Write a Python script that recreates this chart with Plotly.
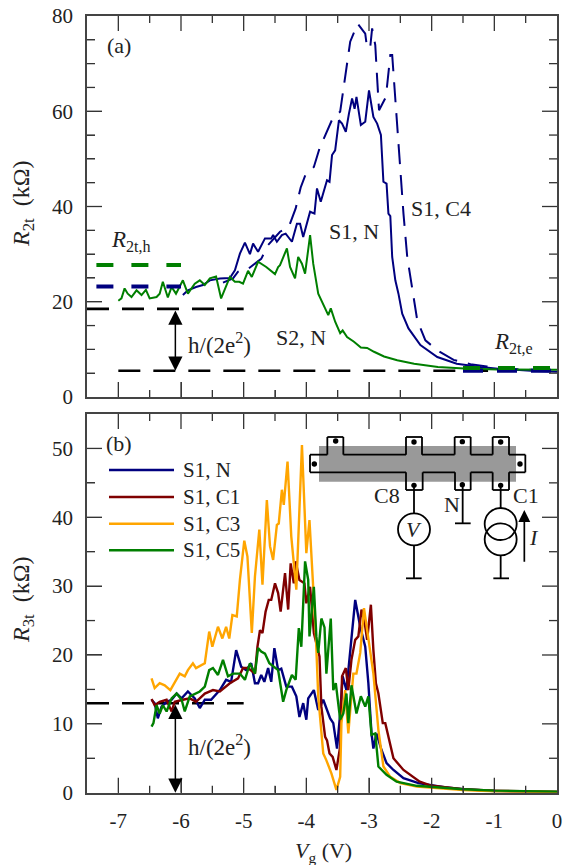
import plotly.graph_objects as go

# ---------- panel (a) data ----------
a_s2n_x = [-7.0,-6.95,-6.9,-6.85,-6.79,-6.71,-6.63,-6.56,-6.5,-6.39,-6.34,-6.29,-6.21,-6.15,-6.08,-5.97,-5.89,-5.78,-5.7,-5.62,-5.54,-5.44,-5.36,-5.28,-5.22,-5.14,-5.07,-5.01,-4.93,-4.87,-4.77,-4.64,-4.5,-4.45,-4.42,-4.31,-4.26,-4.18,-4.13,-4.07,-4.02,-3.94,-3.89,-3.81,-3.73,-3.65,-3.61,-3.54,-3.46,-3.42,-3.35,-3.24,-3.13,-3.03,-2.92,-2.76,-2.55,-2.28,-1.9,-1.48,-0.95,0]
a_s2n_y = [20.2,20.7,22.8,21.7,21,22.4,21.4,22.5,20.7,21,21.7,24.2,20.9,23.1,21.7,24.5,21.7,23.8,24.5,23.5,24.9,25.3,20.7,23.1,25.2,24.2,24.2,23.8,26.5,25.2,28.4,27.3,25.8,27.3,27.7,31.2,27.3,24.9,29.4,28,25.9,34,28,21.7,19.6,17.2,18.6,15.8,13.4,14,12.6,11.6,10.4,10.3,9.5,8.5,7.7,7,6.3,6,5.8,5.7]
a_s1n_x = [-5.97,-5.89,-5.76,-5.65,-5.54,-5.38,-5.22,-5.14,-5.06,-4.98,-4.9,-4.85,-4.77,-4.66,-4.56,-4.53,-4.47,-4.39,-4.33,-4.23,-4.15,-4.1,-4.05,-3.94,-3.87,-3.83,-3.77,-3.67,-3.63,-3.59,-3.54,-3.48,-3.43,-3.37,-3.32,-3.27,-3.23,-3.2,-3.13,-3.06,-3,-2.93,-2.87,-2.81,-2.77,-2.72,-2.69,-2.66,-2.63,-2.58,-2.53,-2.47,-2.37,-2.18,-1.91,-1.6,-1.22,-0.9,-0.42,0]
a_s1n_y = [21.4,22.4,23.1,23.5,24.5,24.9,25,26.6,30.1,32.4,30,32.2,30.5,33.3,33.3,34,32.6,34,34.3,32.6,36.4,36.4,33.6,38.9,38.5,43.8,41,45.5,45.2,50.8,51.8,58.1,57.4,55.7,59.5,62.7,60.5,63,57.1,57.8,64.4,58.8,57.4,55,45.2,44.8,38.5,38,29.4,24.5,21.7,17.5,14.4,10.9,8.4,7,6.3,5.9,5.5,5.3]
a_s1c4_x = [-5.33,-5.17,-5.09,-4.96,-4.72,-4.61,-4.42,-4.28,-4.17,-4.09,-4.01,-3.88,-3.79,-3.7,-3.57,-3.46,-3.38,-3.3,-3.18,-3.06,-3.03,-2.98,-2.95,-2.9,-2.87,-2.84,-2.73,-2.66,-2.63,-2.59,-2.55,-2.51,-2.45,-2.39,-2.31,-2.23,-2.1,-1.91,-1.65,-1.38,-1.12,-0.6,0]
a_s1c4_y = [24,24.9,26.3,26.6,29,31.9,34.7,35.7,39.6,44,46.8,48.3,52.2,55,58.8,59.9,67.6,74.6,78.4,76.3,73.2,73.5,77.4,73.9,66.9,60.2,63,71.8,71.8,64.4,55.3,47.6,38.5,29.4,22.4,16.1,11.9,9.8,7.8,6.9,6.4,5.8,5.6]
quantum_a_x = [-7.5,-5.0]
quantum_a_y = [18.5,18.5]
edge_a_x = [-7.0,-1.1]
edge_a_y = [5.5,5.5]
rh_green_x = [-7.35,-6.0]
rh_green_y = [27.7,27.7]
rh_navy_x = [-7.35,-6.0]
rh_navy_y = [23.2,23.2]
re_green_x = [-1.5,0]
re_green_y = [6.1,6.1]
re_navy_x = [-1.5,0]
re_navy_y = [5.5,5.5]

# ---------- panel (b) data ----------
b_n_x = [-6.47,-6.42,-6.37,-6.31,-6.23,-6.15,-6.07,-5.99,-5.89,-5.78,-5.7,-5.62,-5.52,-5.38,-5.28,-5.2,-5.12,-5.04,-4.96,-4.88,-4.82,-4.77,-4.72,-4.67,-4.61,-4.56,-4.51,-4.45,-4.4,-4.32,-4.23,-4.16,-4.11,-4.05,-4,-3.97,-3.88,-3.81,-3.73,-3.62,-3.57,-3.51,-3.46,-3.42,-3.36,-3.28,-3.22,-3.14,-3.06,-3.01,-2.96,-2.93,-2.88,-2.8,-2.72,-2.61,-2.45,-2.21,-1.8,-1.5,-1,0]
b_n_y = [13.5,13,10.8,12.5,13.2,13.5,14.4,13.7,14.7,13.7,12.3,13.5,13.5,14.9,16.4,16.1,20.7,18.3,17.8,18.8,15.9,15.9,17.1,16.1,18.1,16.1,21,17.8,18,15.4,15.4,14,11,13,10.6,13.7,14.9,12,13.5,10.8,10.1,6.4,11.5,16.9,14.9,22.2,28,24.1,21.2,15.9,8.6,6.4,8.6,6.2,4.3,3.3,2.1,1.4,0.8,0.5,0.25,0.1]
b_c1_x = [-6.47,-6.42,-6.34,-6.23,-6.15,-6.1,-5.97,-5.86,-5.76,-5.62,-5.49,-5.38,-5.22,-5.09,-5.01,-4.93,-4.82,-4.78,-4.74,-4.7,-4.65,-4.6,-4.56,-4.5,-4.45,-4.41,-4.34,-4.29,-4.25,-4.2,-4.17,-4.11,-4.03,-4,-3.94,-3.91,-3.88,-3.79,-3.76,-3.7,-3.67,-3.63,-3.58,-3.52,-3.46,-3.43,-3.37,-3.33,-3.28,-3.22,-3.17,-3.12,-3.06,-3.03,-2.97,-2.93,-2.89,-2.85,-2.78,-2.74,-2.69,-2.61,-2.45,-2.29,-2.19,-2,-1.5,-1,0]
b_c1_y = [13.6,12.7,13.2,13.5,11.8,13.2,13.5,13.7,13.2,14.4,14.9,14.7,15.9,16.6,18.1,18.1,17.3,21.2,23.6,23.2,26.3,28,28,30.4,29,26.3,31.9,26.6,33.3,30.4,33.6,30.9,30.4,27.5,29.9,26.6,23.2,19.8,12.5,8.1,7.6,5.7,5.2,3.3,6.7,16.9,18.1,14.9,19.3,22.2,22.7,26.6,24.1,22.2,27.3,20.7,15.9,14.4,10.1,10.1,8.1,5,3.3,2.3,1.6,1,0.5,0.3,0.1]
b_c3_x = [-6.47,-6.42,-6.34,-6.26,-6.17,-6.07,-6.02,-5.94,-5.89,-5.81,-5.76,-5.62,-5.59,-5.55,-5.5,-5.41,-5.34,-5.28,-5.23,-5.18,-5.11,-5.06,-4.99,-4.94,-4.87,-4.82,-4.75,-4.7,-4.63,-4.58,-4.53,-4.47,-4.44,-4.39,-4.36,-4.3,-4.24,-4.16,-4.07,-4,-3.95,-3.89,-3.85,-3.81,-3.73,-3.68,-3.6,-3.52,-3.46,-3.44,-3.38,-3.33,-3.25,-3.2,-3.14,-3.08,-3.01,-2.93,-2.85,-2.77,-2.66,-2.5,-2.24,-1.5,-1,0]
b_c3_y = [16.6,15.2,15.9,15.6,14.9,16.6,17.3,16.9,17.8,18.8,18.1,18.8,20.7,23.4,21.2,24.1,22.4,24.1,22.4,25.8,25.6,30.9,36.6,34.3,23.2,31.4,38.2,30.2,42.5,35.8,33.8,38.9,39.1,44,41.8,48.1,37.2,29.5,50.5,34.8,39.6,29.9,23.2,14,5.7,4.7,2.8,0.4,2.3,10.1,14.9,8.6,17.3,17.3,20.3,26.8,22.2,17.3,9.1,3.8,2.3,1.4,0.9,0.4,0.2,0.1]
b_c5_x = [-6.47,-6.44,-6.39,-6.34,-6.29,-6.23,-6.15,-6.07,-5.99,-5.94,-5.86,-5.78,-5.7,-5.62,-5.55,-5.49,-5.41,-5.33,-5.25,-5.17,-5.06,-4.98,-4.9,-4.82,-4.77,-4.72,-4.66,-4.59,-4.45,-4.37,-4.32,-4.23,-4.17,-4.12,-4.08,-4.02,-3.97,-3.95,-3.88,-3.84,-3.81,-3.76,-3.71,-3.68,-3.61,-3.57,-3.53,-3.46,-3.41,-3.36,-3.33,-3.28,-3.2,-3.13,-3.06,-3.01,-2.96,-2.9,-2.85,-2.72,-2.56,-2.24,-1.5,-1,0]
b_c5_y = [9.6,10.1,12.7,11.5,12.7,11.8,13.7,14.4,13.5,11.8,14,14.4,14.7,15.4,17.8,18.1,17.1,19.3,16.9,17.3,17.3,16.4,18.8,17.3,21,20.5,20.2,18.8,17.8,13.2,14.9,17.1,16.4,23.9,21.2,33.6,30.9,22.7,29.9,22.7,20.3,25.3,24,17.3,25.3,14.9,15.9,10.6,11.5,14.4,10.1,15.6,11.5,14,12.5,14,8.4,8.6,3.8,2.6,1.6,1,0.5,0.3,0.15]
quantum_b_x = [-7.5,-5.0]
quantum_b_y = [13,13]

# ---------- axis labels ----------
x_tick_vals = [-7,-6,-5,-4,-3,-2,-1,0]
x_tick_text = ["-7","-6","-5","-4","-3","-2","-1","0"]
a_tick_vals = [0,20,40,60,80]
b_tick_vals = [0,10,20,30,40,50]
legend_names = ["S1, N","S1, C1","S1, C3","S1, C5"]

NAVY="#00007f"; RED="#7f0000"; ORANGE="#ffa500"; GREEN="#007f00"
W,H=563,865
SERIF="Liberation Serif"
AX="#444444"; TXT="#222222"
L,R=87,557
fx=lambda p:p/W
fy=lambda p:1-p/H

fig=go.Figure()
def add(x,y,color,width,name,axis,dash=None):
    fig.add_trace(go.Scatter(x=x,y=y,mode="lines",name=name,xaxis="x" if axis==1 else "x2",yaxis="y" if axis==1 else "y2",
        line=dict(color=color,width=width,dash=dash),showlegend=False,hoverinfo="skip"))

bk="22px,13px"
add(quantum_a_x,quantum_a_y,"black",2.6,"h/(2e2) level",1,bk)
add(edge_a_x,edge_a_y,"black",2.6,"edge level",1,bk)
add(a_s1n_x,a_s1n_y,NAVY,2,"S1, N",1)
add(a_s1c4_x,a_s1c4_y,NAVY,2,"S1, C4",1,"20px,11px")
add(a_s2n_x,a_s2n_y,GREEN,2,"S2, N",1)
add(rh_navy_x,rh_navy_y,NAVY,4,"R2t,h S1",1,"17px,18px")
add(rh_green_x,rh_green_y,GREEN,4,"R2t,h S2",1,"17px,18px")
add(re_navy_x,re_navy_y,NAVY,4,"R2t,e S1",1,"20px,14px")
add(re_green_x,re_green_y,GREEN,4,"R2t,e S2",1,"17px,18px")

add(quantum_b_x,quantum_b_y,"black",2.6,"h/(2e2) level",2,bk)
add(b_n_x,b_n_y,NAVY,2.4,legend_names[0],2)
add(b_c1_x,b_c1_y,RED,2.4,legend_names[1],2)
add(b_c3_x,b_c3_y,ORANGE,2.4,legend_names[2],2)
add(b_c5_x,b_c5_y,GREEN,2.4,legend_names[3],2)

def xaxis(dom,labels,anchor):
    return dict(domain=dom,range=[-7.5,0],anchor=anchor,tickmode="array",tickvals=x_tick_vals,ticktext=x_tick_text,automargin=False,
        showticklabels=labels,ticks="inside",ticklen=15,tickwidth=1.2,tickcolor=AX,showline=True,linecolor=AX,linewidth=1.5,mirror=True,
        showgrid=False,zeroline=False,tickfont=dict(family=SERIF,size=21,color=TXT),ticklabelstandoff=8,
        minor=dict(dtick=0.5,tick0=0,ticks="inside",ticklen=7,tickwidth=1.2,tickcolor=AX,showgrid=False))
def yaxis(dom,rng,vals,anchor):
    return dict(domain=dom,range=rng,anchor=anchor,tickmode="array",tickvals=vals,automargin=False,
        ticks="inside",ticklen=15,tickwidth=1.2,tickcolor=AX,showline=True,linecolor=AX,linewidth=1.5,mirror=True,
        showgrid=False,zeroline=False,tickfont=dict(family=SERIF,size=21,color=TXT),ticklabelstandoff=8,
        minor=dict(dtick=5,tick0=0,ticks="inside",ticklen=8,tickwidth=1.2,tickcolor=AX,showgrid=False))

xd=[fx(L),fx(R)]
ydA=[fy(397),fy(16)]; ydB=[fy(792.7),fy(414)]
layout=dict(width=W,height=H,margin=dict(l=0,r=0,t=0,b=0),paper_bgcolor="white",plot_bgcolor="rgba(0,0,0,0)",showlegend=False,
    xaxis=xaxis(xd,False,"y"),yaxis=yaxis(ydA,[0,80],a_tick_vals,"x"),
    xaxis2=xaxis(xd,True,"y2"),yaxis2=yaxis(ydB,[0,55],b_tick_vals,"x2"))

ann=[]
def text(px,py,s,size=21,angle=0,color=TXT,xanchor="center"):
    ann.append(dict(xref="paper",yref="paper",x=fx(px),y=fy(py),text=s,showarrow=False,xanchor=xanchor,yanchor="middle",
        font=dict(family=SERIF,size=size,color=color),textangle=angle))
text(119,45,"(a)",22); text(119,443,"(b)",22)
text(23,204,"<i>R</i><sub>2t</sub>&nbsp;&nbsp;(kΩ)",24,-90); text(23,600,"<i>R</i><sub>3t</sub>&nbsp;&nbsp;(kΩ)",24,-90)
text(323,852,"<i>V</i><sub>g</sub> (V)",22)
text(441,208,"S1, C4",22); text(354,232,"S1, N",22); text(301,337,"S2, N",22)
text(513,343,"<i>R</i><sub>2t,e</sub>",23); text(131,241,"<i>R</i><sub>2t,h</sub>",23)
text(219,343,"h/(2e<sup>2</sup>)",23); text(219,745,"h/(2e<sup>2</sup>)",23)
text(387,495,"C8",22); text(452,504,"N",22); text(526,495,"C1",22)
text(414,529,"<i>V</i>",22); text(534,537,"<i>I</i>",22)
for n,py in zip(legend_names,[470,497,523.7,550.3]):
    text(180.7,py,n,21,xanchor="left")
# double-headed arrows
def arrow(xr,yr,x,y,ax,ay):
    ann.append(dict(xref=xr,yref=yr,axref=xr,ayref=yr,x=x,y=y,ax=ax,ay=ay,text="",showarrow=True,arrowhead=2,arrowside="end+start",arrowsize=1.9,arrowwidth=1.5,arrowcolor="black",standoff=0,startstandoff=0,startarrowhead=2,startarrowsize=1.9))
arrow("x","y",-6.09,5.5,-6.09,18.5)
arrow("x2","y2",-6.09,0,-6.09,13)
layout["annotations"]=ann

# inset schematic + legend keys (pixel helper)
Z=lambda zx,zy:(280+zx/3,410+zy/3)
sh=[]
def line(x0,y0,x1,y1,color="black",w=1.8):
    sh.append(dict(type="line",xref="paper",yref="paper",x0=fx(x0),y0=fy(y0),x1=fx(x1),y1=fy(y1),line=dict(color=color,width=w)))
# frame ticks on all four sides of both panels
for top,bot,ymax,major in [(16,397,80,a_tick_vals),(414,792.7,55,b_tick_vals)]:
    for k in range(1,15):
        v=-7.5+k*0.5
        p=L+(R-L)*(v+7.5)/7.5
        ln=15 if v in x_tick_vals else 7
        line(p,top,p,top+ln,"#333333",1.3)
        line(p,bot,p,bot-ln,"#333333",1.3)
    for v in range(5,ymax,5):
        p=bot-(bot-top)*v/ymax
        ln=15 if v in major else 8
        line(L,p,L+ln,p,"#333333",1.3)
        line(R,p,R-ln,p,"#333333",1.3)
for c,py in zip([NAVY,RED,ORANGE,GREEN],[470,497,523.7,550.3]):
    line(109,py,174,py,c,2.4)
(a,b),(c,d)=Z(117,108),Z(708,215)
sh.append(dict(type="rect",xref="paper",yref="paper",x0=fx(a),y0=fy(b),x1=fx(c),y1=fy(d),fillcolor="#999999",line=dict(width=0),layer="above"))
outline=[(90,134),(142,134),(142,81),(190,81),(190,134),(378,134),(378,81),(426,81),(426,134),(524,134),(524,81),(572,81),(572,134),(638,134),(638,81),(687,81),(687,134),(736,134),(736,187),(687,187),(687,240),(638,240),(638,187),(572,187),(572,240),(525,240),(525,187),(428,187),(428,240),(378,240),(378,187),(90,187),(90,134)]
for p,q in zip(outline[:-1],outline[1:]):
    line(*Z(*p),*Z(*q))
for zx,zy in [(167,93),(402,96),(547,95),(662,96),(103,162),(720,162),(402,226),(547,224),(662,226)]:
    x,y=Z(zx,zy)
    sh.append(dict(type="circle",xref="paper",yref="paper",x0=fx(x-2.7),x1=fx(x+2.7),y0=fy(y-2.7),y1=fy(y+2.7),fillcolor="black",line=dict(width=0)))
for seg in [(402,226,402,310),(402,406,402,505),(378,505,425,505),(548,226,548,340),(525,340,572,340),(662,226,662,295),(662,436,662,505),(640,505,687,505)]:
    line(*Z(seg[0],seg[1]),*Z(seg[2],seg[3]))
for zx,zy in [(402,358),(662,342),(662,388)]:
    x,y=Z(zx,zy)
    sh.append(dict(type="circle",xref="paper",yref="paper",x0=fx(x-16),x1=fx(x+16),y0=fy(y-16),y1=fy(y+16),line=dict(color="black",width=1.8)))
layout["shapes"]=sh
x0,y0=Z(733,460); x1,y1=Z(733,300)
layout["annotations"].append(dict(xref="paper",yref="paper",axref="pixel",ayref="pixel",x=fx(x1),y=fy(y1),ax=0,ay=y0-y1,text="",showarrow=True,arrowhead=2,arrowsize=1.4,arrowwidth=1.7,arrowcolor="black"))
fig.update_layout(**layout)
fig.write_html("out.html", config={"displayModeBar":False},
    post_script="document.documentElement.style.overflow='hidden';document.body.style.margin='0';document.body.style.height='865px';document.body.style.overflow='hidden';")
